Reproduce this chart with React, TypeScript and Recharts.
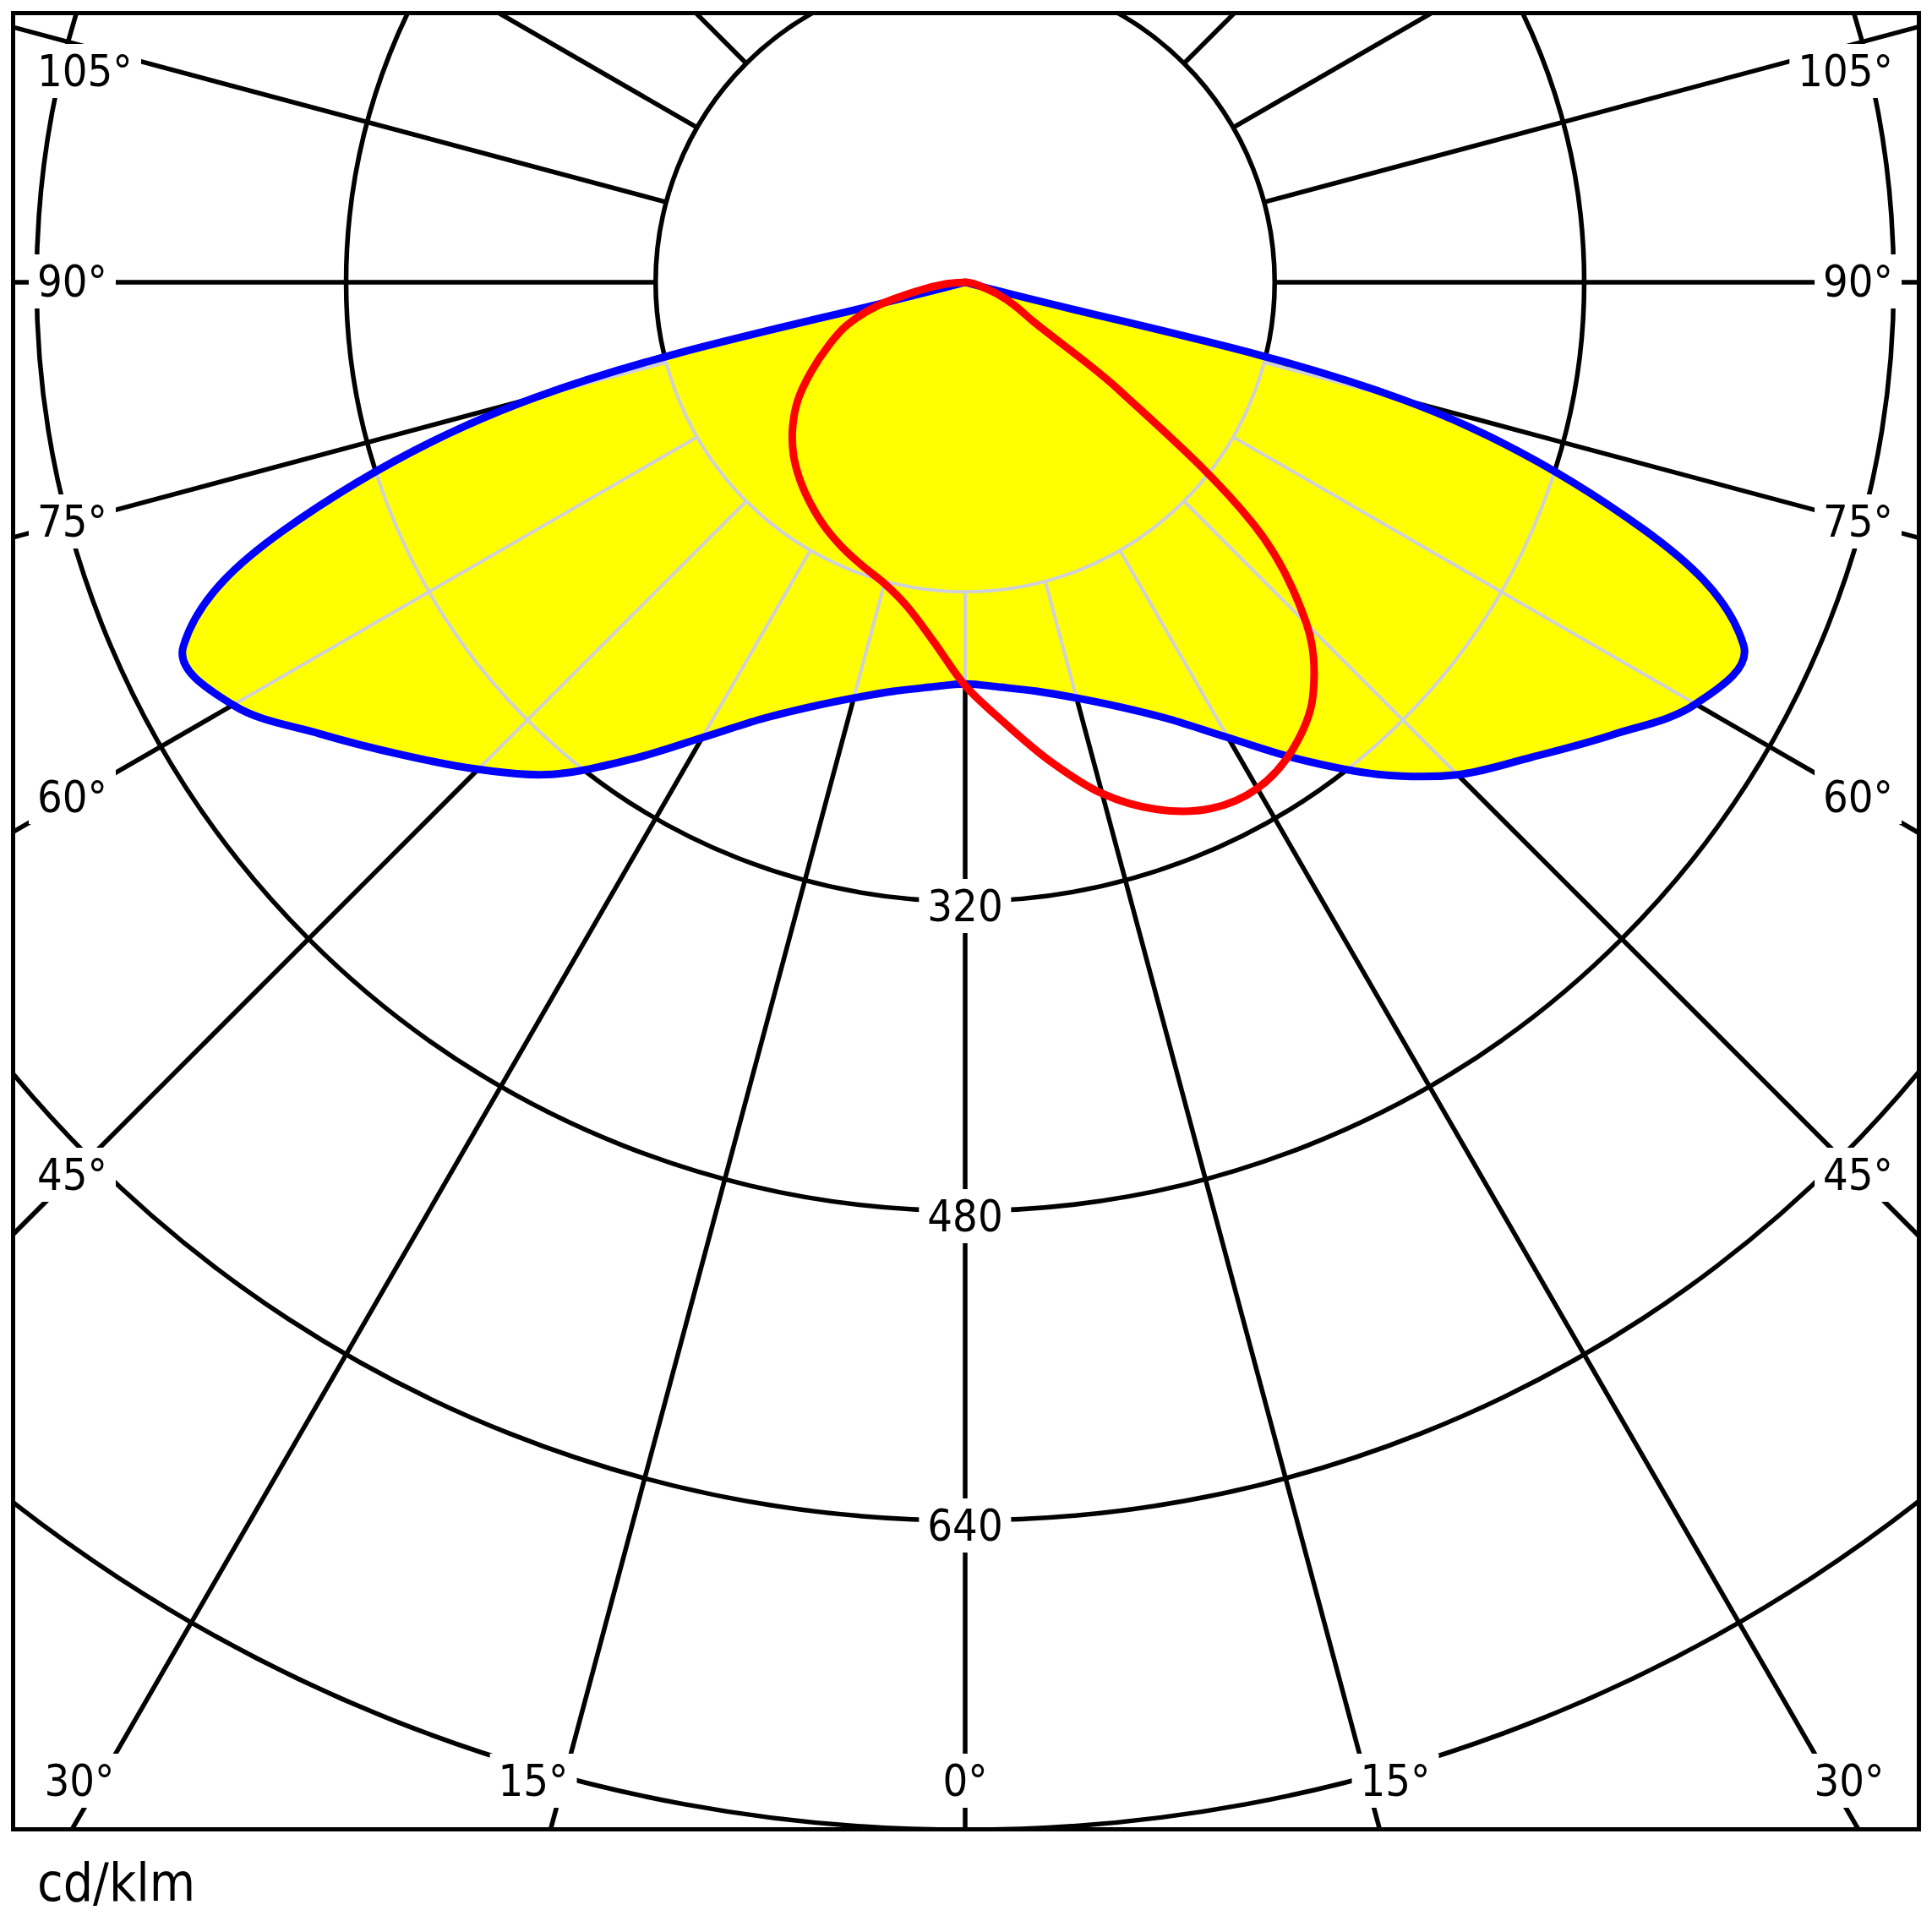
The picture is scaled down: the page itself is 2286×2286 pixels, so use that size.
import { RadarChart, Radar, PolarGrid, PolarAngleAxis, PolarRadiusAxis } from "recharts"

// gamma angle around the nadir, counter-clockwise on screen:
// 0..90 is the right half, 270..355 the left half, the upper half is dark
const angles = [
  0, 5, 10, 15, 20, 25, 30, 35, 40, 45, 50, 55, 60, 65, 70, 75, 80, 85, 90,
  270, 275, 280, 285, 290, 295, 300, 305, 310, 315, 320, 325, 330, 335, 340, 345, 350, 355,
]

// cd/klm
const planeC0C180 = [
  207.6, 210.1, 214.7, 222.5, 233.6, 249.1, 271.8, 301, 332, 360, 382, 408, 436, 444, 373, 234, 0, 0, 0,
  0, 0, 0, 230, 375, 446, 437, 407, 380, 356, 332, 301, 271.8, 249.1, 233.6, 222.5, 214.7, 210.1,
]
const planeC90C270 = [
  208.5, 228.2, 251.1, 273.6, 290, 300.2, 302.1, 295, 279.6, 249.5, 194.5, 97, 40.9, 28, 17.5, 9, 5, 2, 0,
  0, 10.2, 23.8, 47, 65.2, 78.2, 91.7, 105.4, 116.4, 125.6, 133, 139.5, 145.6, 150.9, 155.8, 161.2, 170.6, 186.5,
]

const ringValues = [160, 320, 480, 640, 800, 960]
const angleTicks = [0, 15, 30, 45, 60, 75, 90, 105, 120, 135, 150, 165, 180, 195, 210, 225, 240, 255, 270, 285, 300, 315, 330, 345]
const ringLabels = ["320", "480", "640"]
const sideLabels = ["105°", "90°", "75°", "60°", "45°"]
const bottomLabels = ["30°", "15°", "0°", "15°", "30°"]

const table = angles.map((theta, i) => ({
  theta,
  c0c180: planeC0C180[i],
  c90c270: planeC90C270[i],
}))

// layout
const FRAME_L = 15
const FRAME_T = 15
const FRAME_W = 2255
const FRAME_H = 2149
const PAGE_CX = 1142
const PAGE_CY = 334
const K = 2.289 // px per cd/klm
const R_MAX = 960
const FONT = '"DejaVu Sans Condensed", "Liberation Sans", sans-serif'
const sideY = [84, 333, 617, 943, 1390]
const bottomX = [94, 631, 1142, 1651, 2188]

const polar = {
  width: FRAME_W,
  height: FRAME_H,
  cx: PAGE_CX - FRAME_L,
  cy: PAGE_CY - FRAME_T,
  startAngle: -90,
  endAngle: 270,
  margin: { top: 0, right: 0, bottom: 0, left: 0 },
}

type Pt = { x: number; y: number }

// closed curve through the radar points, tangents from the neighbours,
// handle length a third of each segment so nothing overshoots the pole
function smoothClosed(pts: Pt[]) {
  const n = pts.length
  const tan = pts.map((_, i) => {
    const a = pts[(i - 1 + n) % n]
    const b = pts[(i + 1) % n]
    const dx = b.x - a.x
    const dy = b.y - a.y
    const l = Math.hypot(dx, dy) || 1
    return { x: dx / l, y: dy / l }
  })
  let d = `M${pts[0].x},${pts[0].y}`
  for (let i = 0; i < n; i++) {
    const j = (i + 1) % n
    const p1 = pts[i]
    const p2 = pts[j]
    const h = Math.hypot(p2.x - p1.x, p2.y - p1.y) / 3
    d += ` C${p1.x + tan[i].x * h},${p1.y + tan[i].y * h} ${p2.x - tan[j].x * h},${p2.y - tan[j].y * h} ${p2.x},${p2.y}`
  }
  return d + "Z"
}

function FillShape({ points }: { points: Pt[] }) {
  const d = smoothClosed(points)
  return (
    <g>
      <defs>
        <clipPath id="lumClip">
          <path d={d} />
        </clipPath>
      </defs>
      <path d={d} fill="#ffff00" stroke="none" />
    </g>
  )
}

function LineShape({ points, color }: { points: Pt[]; color: string }) {
  return (
    <path
      d={smoothClosed(points)}
      fill="none"
      stroke={color}
      strokeWidth={9}
      strokeLinejoin="round"
      strokeLinecap="round"
    />
  )
}

function GridLayer({ color, width }: { color: string; width: number }) {
  return (
    <RadarChart {...polar} data={table} innerRadius={ringValues[0] * K} outerRadius={R_MAX * K}>
      <PolarGrid gridType="circle" stroke={color} strokeWidth={width} />
      <PolarAngleAxis
        dataKey="theta"
        type="number"
        domain={[0, 360]}
        ticks={angleTicks}
        tickCount={25}
        tick={false}
        tickLine={false}
        axisLine={false}
      />
      <PolarRadiusAxis
        type="number"
        domain={[ringValues[0], R_MAX]}
        ticks={ringValues}
        tickCount={6}
        allowDataOverflow
        tick={false}
        axisLine={false}
      />
    </RadarChart>
  )
}

function Axes() {
  return (
    <>
      <PolarAngleAxis dataKey="theta" type="number" domain={[0, 360]} tick={false} tickLine={false} axisLine={false} />
      <PolarRadiusAxis type="number" domain={[0, R_MAX]} allowDataOverflow tick={false} axisLine={false} />
    </>
  )
}

function Tag({ x, y, anchor, text }: { x: number; y: number; anchor: "start" | "middle" | "end"; text: string }) {
  const padX = 10
  const tx = anchor === "start" ? "0" : anchor === "end" ? "-100%" : "-50%"
  const left = anchor === "start" ? x - padX : anchor === "end" ? x + padX : x
  return (
    <div
      style={{
        position: "absolute",
        left,
        top: y,
        transform: `translate(${tx}, -50%)`,
        background: "#fff",
        padding: `6px ${padX}px`,
        fontFamily: FONT,
        fontSize: 52,
        lineHeight: "52px",
        color: "#000",
        whiteSpace: "nowrap",
      }}
    >
      {text}
    </div>
  )
}

const layer: React.CSSProperties = { position: "absolute", left: 0, top: 0 }

const css = `
.grid-k svg line, .grid-k svg circle, .grid-k svg path { stroke: #000 !important; stroke-width: 5.5px !important; }
.grid-g svg line, .grid-g svg circle, .grid-g svg path { stroke: #d0d0d8 !important; stroke-width: 4px !important; }
`

export default function App() {
  return (
    <div style={{ position: "absolute", left: 0, top: 0, width: 2286, height: 2286, background: "#fff", overflow: "hidden" }}>
      <style>{css}</style>
      <div style={{ position: "absolute", left: FRAME_L, top: FRAME_T, width: FRAME_W, height: FRAME_H, overflow: "hidden" }}>
        <div className="grid-k" style={layer}>
          <GridLayer color="#000" width={5.5} />
        </div>
        <div style={layer}>
          <RadarChart {...polar} data={table} innerRadius={0} outerRadius={R_MAX * K}>
            {Axes()}
            <Radar
              dataKey="c0c180"
              isAnimationActive={false}
              shape={(p: any) => <FillShape points={p.points} />}
            />
          </RadarChart>
        </div>
        <div className="grid-g" style={{ ...layer, clipPath: "url(#lumClip)" }}>
          <GridLayer color="#d0d0d8" width={4} />
        </div>
        <div style={layer}>
          <RadarChart {...polar} data={table} innerRadius={0} outerRadius={R_MAX * K}>
            {Axes()}
            <Radar
              dataKey="c0c180"
              isAnimationActive={false}
              shape={(p: any) => <LineShape points={p.points} color="#0000ff" />}
            />
            <Radar
              dataKey="c90c270"
              isAnimationActive={false}
              shape={(p: any) => <LineShape points={p.points} color="#ff0000" />}
            />
          </RadarChart>
        </div>
      </div>

      <div
        style={{
          position: "absolute",
          left: FRAME_L - 2.5,
          top: FRAME_T - 2.5,
          width: FRAME_W + 5,
          height: FRAME_H + 5,
          border: "5px solid #000",
          boxSizing: "border-box",
        }}
      />

      {sideLabels.map((t, i) => (
        <Tag key={"l" + i} x={44} y={sideY[i]} anchor="start" text={t} />
      ))}
      {sideLabels.map((t, i) => (
        <Tag key={"r" + i} x={2240} y={sideY[i]} anchor="end" text={t} />
      ))}
      {bottomLabels.map((t, i) => (
        <Tag key={"b" + i} x={bottomX[i]} y={2107} anchor="middle" text={t} />
      ))}
      {ringLabels.map((t) => (
        <Tag key={"c" + t} x={PAGE_CX} y={PAGE_CY + Number(t) * K + 6} anchor="middle" text={t} />
      ))}

      <div
        style={{
          position: "absolute",
          left: 44,
          top: 2197,
          fontFamily: FONT,
          fontSize: 62,
          lineHeight: "62px",
          color: "#000",
        }}
      >
        cd/klm
      </div>
    </div>
  )
}
